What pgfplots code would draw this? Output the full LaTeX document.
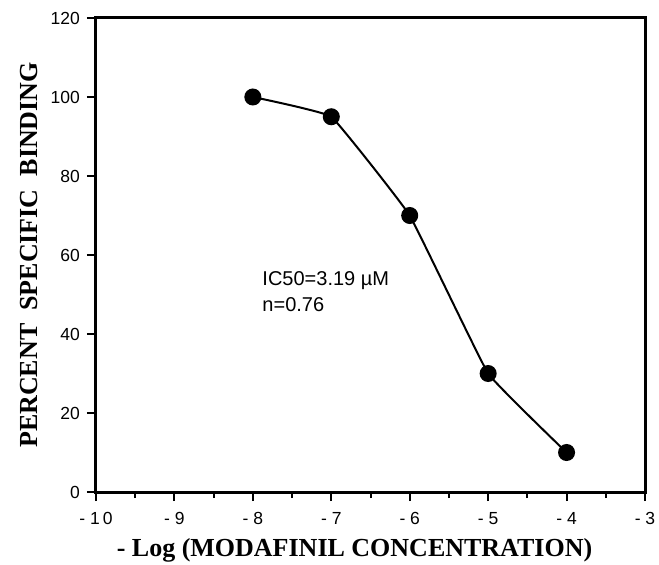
\documentclass[border=0pt]{standalone}
\usepackage{fontspec}
\setmainfont{Liberation Sans}
\newfontfamily\timesfont{Liberation Serif}
\usepackage{pgfplots}
\pgfplotsset{compat=1.18}
\begin{document}
\begin{tikzpicture}
\begin{axis}[
    scale only axis,
    width=549pt, height=474pt,
    xmin=-10, xmax=-3,
    ymin=0, ymax=120,
    xtick={-10,-9,...,-3},
    xticklabels={-\ 1\,0,-\ 9,-\ 8,-\ 7,-\ 6,-\ 5,-\ 4,-\ 3},
    minor xtick={-9.5,-8.5,...,-3.5},
    ytick={0,20,...,120},
    tick align=outside,
    xtick pos=bottom, ytick pos=left,
    major tick length=9pt,
    minor tick length=6pt,
    every tick/.style={black, line width=2pt},
    axis line style={line width=3pt},
    tick label style={font=\fontsize{17.5}{20}\selectfont},
    yticklabel style={inner sep=0pt, xshift=-7pt},
    xticklabel style={inner sep=0pt, yshift=-11pt},
    /pgf/number format/assume math mode=true,
    xlabel={\timesfont\bfseries - Log (MODAFINIL CONCENTRATION)},
    ylabel={\timesfont\bfseries PERCENT\ \ SPECIFIC\ \ BINDING},
    label style={font=\fontsize{26}{28}\selectfont, inner sep=0pt},
    xlabel style={at={(axis description cs:0.5,0)}, anchor=base,
      yshift=-64pt, xshift=-16pt},
    ylabel style={at={(axis description cs:0,0.5)}, anchor=north,
      yshift=76pt},
    clip=false,
]
\addplot[black, line width=2pt, smooth, tension=0.15, mark=*, mark size=7.5pt]
  coordinates {(-8,100) (-7,95) (-6,70) (-5,30) (-4,10)};
\node[anchor=base west, font=\fontsize{20}{22}\selectfont, inner sep=0pt]
  at (axis cs:-7.88,52.4) {IC50=3.19 µM};
\node[anchor=base west, font=\fontsize{20}{22}\selectfont, inner sep=0pt]
  at (axis cs:-7.88,45.6) {n=0.76};
\end{axis}
\pgfresetboundingbox
\path ([shift={(-96pt,-72pt)}]current axis.south west)
  rectangle ([shift={(14pt,18pt)}]current axis.north east);
\end{tikzpicture}
\end{document}
